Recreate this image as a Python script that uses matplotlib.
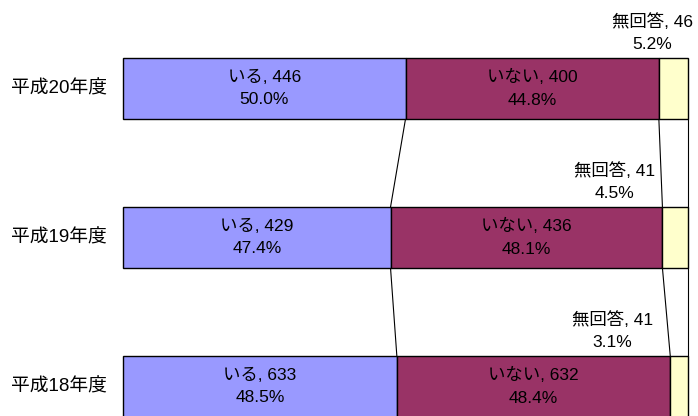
import numpy as np
import matplotlib
matplotlib.use("Agg")
import matplotlib.pyplot as plt
from matplotlib.transforms import blended_transform_factory

plt.rcParams['font.family'] = ['Liberation Sans', 'Noto Sans CJK JP']

# --- data ---
years = ['平成20年度', '平成19年度', '平成18年度']
series = ['いる', 'いない', '無回答']
iru = [446, 429, 633]
inai = [400, 436, 632]
mukaitou = [46, 41, 41]
pct_labels = [['50.0%', '44.8%', '5.2%'],
              ['47.4%', '48.1%', '4.5%'],
              ['48.5%', '48.4%', '3.1%']]

colors = ['#9999FF', '#993366', '#FFFFCC']
# horizontal shift (pixels) of the outside "無回答" labels
outside_dx = [-21, -61, -67]

counts = np.array([iru, inai, mukaitou], dtype=float)
frac = counts / counts.sum(axis=0)
left = np.vstack([np.zeros(3), np.cumsum(frac, axis=0)[:-1]])
cum = np.cumsum(frac, axis=0)

fig = plt.figure(figsize=(6.98, 4.16), dpi=100)
ax = fig.add_axes([123 / 698, 0, 565 / 698, 1])
ypos = np.arange(len(years))
h = 61 / 149

for s in range(3):
    ax.barh(ypos, frac[s], left=left[s], height=h, color=colors[s],
            edgecolor='black', linewidth=1.0, zorder=2, clip_on=False)

# series lines between bars
for i in range(len(years) - 1):
    for s in range(3):
        ax.plot([cum[s, i], cum[s, i + 1]], [ypos[i] + h / 2, ypos[i + 1] - h / 2],
                color='black', linewidth=0.8, zorder=1, clip_on=False)

lab_tr = blended_transform_factory(ax.transAxes, ax.transData)
for i in range(len(years)):
    for s in range(2):
        ax.text(left[s, i] + frac[s, i] / 2, ypos[i],
                f'{series[s]}, {int(counts[s, i])}\n{pct_labels[i][s]}',
                ha='center', va='center', fontsize=12.5, linespacing=1.6,
                zorder=3)
    ax.annotate(f'{series[2]}, {int(counts[2, i])}\n{pct_labels[i][2]}',
                xy=(left[2, i] + frac[2, i] / 2, ypos[i] - h / 2),
                xytext=(outside_dx[i], 6), textcoords='offset pixels',
                ha='center', va='bottom', fontsize=12.5, linespacing=1.6,
                annotation_clip=False)
    ax.text(-16 / 565, ypos[i], years[i], transform=lab_tr,
            ha='right', va='center', fontsize=13.5)

ax.set_xlim(0, 1)
ax.set_ylim(2 + 29.5 / 149, -88.5 / 149)
ax.axis('off')

fig.savefig('out.png', dpi=100)
